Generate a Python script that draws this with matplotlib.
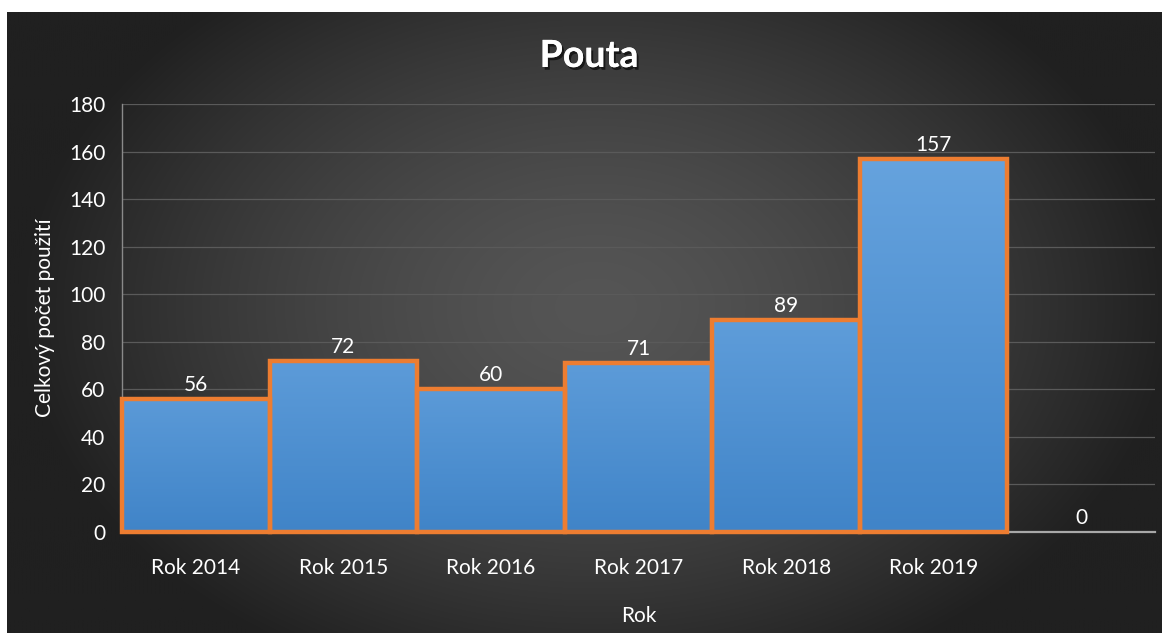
import numpy as np
import matplotlib
matplotlib.use("Agg")
import matplotlib.pyplot as plt
import matplotlib.patheffects as pe

categories = ["Rok 2014", "Rok 2015", "Rok 2016", "Rok 2017", "Rok 2018", "Rok 2019", ""]
values = [56, 72, 60, 71, 89, 157, 0]
yticks = [0, 20, 40, 60, 80, 100, 120, 140, 160, 180]
title = "Pouta"
xlabel = "Rok"
ylabel = "Celkový počet použití"

FONT = ["Lato", "DejaVu Sans"]
FS = 15
W, H = 1162, 633
fig = plt.figure(figsize=(W / 100, H / 100), dpi=100, facecolor="white")

# background panel with radial gradient
bx0, by0 = 7 / W, 0
bg = fig.add_axes([bx0, by0, 1 - bx0, (H - 12) / H], zorder=0)
gx, gy = np.meshgrid(np.linspace(-1, 1, 600), np.linspace(-1, 1, 330))
r = np.sqrt(((gx - 0.02) / 1.0) ** 2 + ((gy + 0.05) / 1.3) ** 2)
r = np.clip(r, 0, 1)
c_in = np.array([0x55, 0x55, 0x55]) / 255
c_out = np.array([0x20, 0x20, 0x20]) / 255
t = r[..., None] ** 1.5
img = c_in * (1 - t) + c_out * t
bg.imshow(img, aspect="auto", extent=[0, 1, 0, 1], interpolation="bilinear")
bg.set_axis_off()

# plot axes
left, right = 122 / W, 1155 / W
bottom, top = 1 - 532 / H, 1 - 104 / H
ax = fig.add_axes([left, bottom, right - left, top - bottom], zorder=1)
ax.patch.set_alpha(0)
x = np.arange(len(categories))

ax.set_yticks(yticks)
ax.yaxis.grid(True, color="#5a5a5a", linewidth=0.9)
ax.set_axisbelow(True)
for s in ["top", "right"]:
    ax.spines[s].set_visible(False)
ax.spines["left"].set_color("#8a8a8a")
ax.spines["left"].set_linewidth(1.0)
ax.spines["bottom"].set_color("#a8a8a8")
ax.spines["bottom"].set_linewidth(1.6)
ax.tick_params(axis="both", length=0, colors="white", labelsize=FS)
ax.tick_params(axis="y", pad=12)
ax.tick_params(axis="x", pad=19)
ax.set_xticks(x)
ax.set_xticklabels(categories, fontfamily=FONT, color="white", fontsize=FS)
for lab in ax.get_yticklabels():
    lab.set_fontfamily(FONT)

edgecolors = ["#ED7D31" if v > 0 else "none" for v in values]
bars = ax.bar(x, values, width=1.0, color="none", edgecolor=edgecolors, linewidth=3.2, zorder=3)
for b in bars:
    b.set_clip_on(False)
grad = np.linspace(0, 1, 256)[:, None]
top_c = np.array([0x66, 0xa3, 0xde]) / 255
bot_c = np.array([0x40, 0x84, 0xc8]) / 255
for b, v in zip(bars, values):
    if v <= 0:
        continue
    f = v / 160.0
    tc = bot_c + (top_c - bot_c) * min(1.0, 0.55 + 0.45 * f)
    gimg = (tc * (1 - grad[..., None]) + bot_c * grad[..., None])
    x0, w = b.get_x(), b.get_width()
    im = ax.imshow(gimg, extent=[x0, x0 + w, 0, v], aspect="auto", zorder=2,
                   interpolation="bilinear")
    im.set_clip_path(b)
ax.set_xlim(-0.5, len(categories) - 0.5)
ax.set_ylim(0, 180)

for xi, v in zip(x, values):
    ax.annotate(str(v), (xi, v), xytext=(0, 3), textcoords="offset points",
                ha="center", va="bottom", color="white", fontsize=FS, fontfamily=FONT, zorder=5)

ax.set_xlabel(xlabel, color="white", fontsize=FS, fontfamily=FONT, labelpad=20)
ax.set_ylabel(ylabel, color="white", fontsize=FS, fontfamily=FONT, labelpad=10)

fig.text(589 / W, 1 - 56 / H, title, ha="center", va="center", color="white",
         fontsize=27, fontweight="bold", fontfamily=FONT,
         path_effects=[pe.withSimplePatchShadow(offset=(1.5, -2), shadow_rgbFace="black", alpha=0.6),
                       pe.Normal()])

fig.savefig("out.png", dpi=100, facecolor="white")
